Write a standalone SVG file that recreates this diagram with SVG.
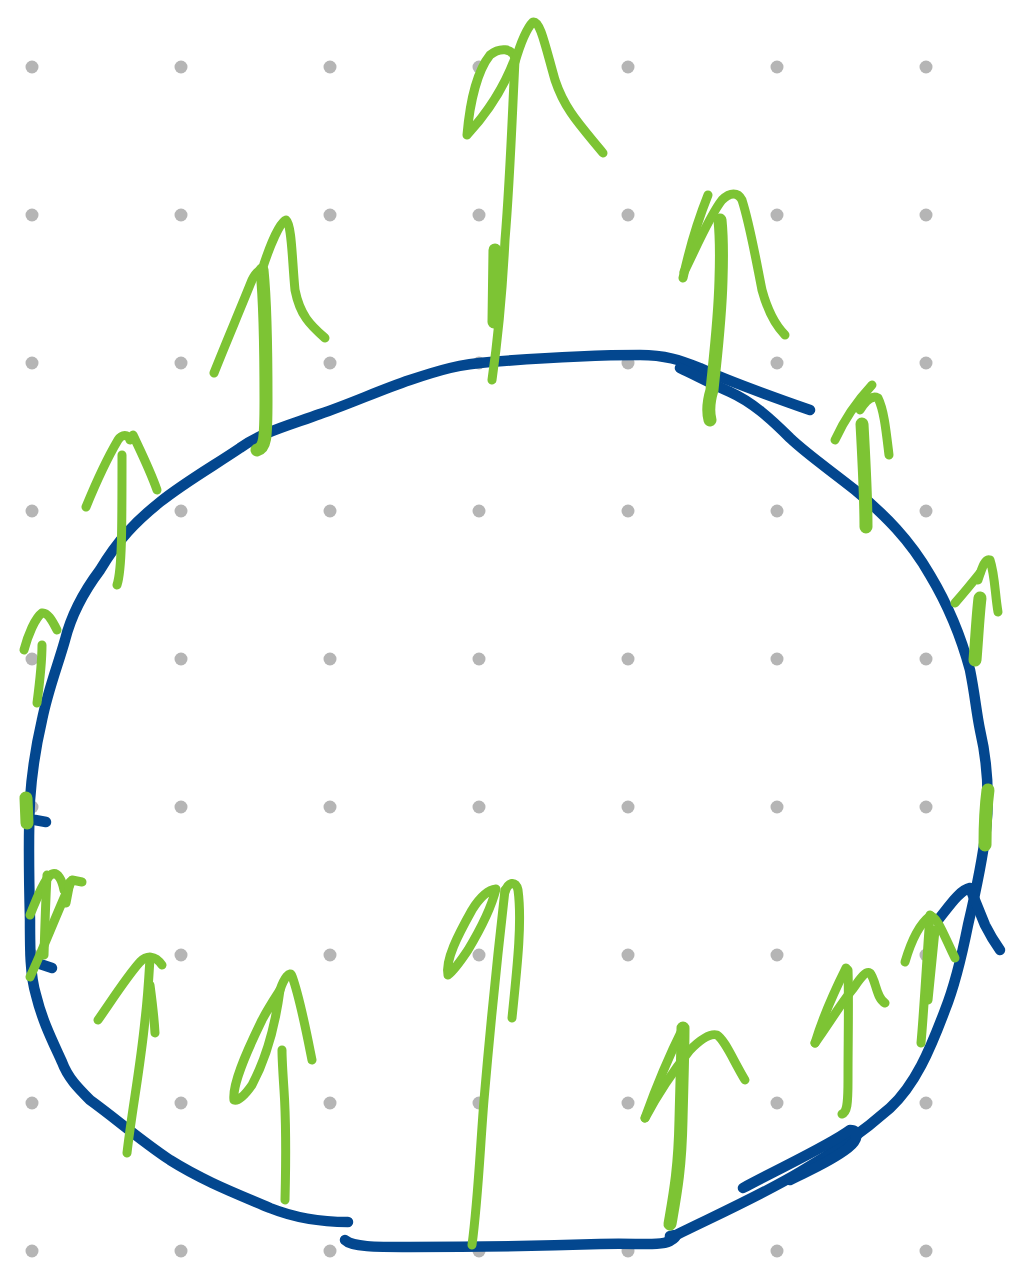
<svg xmlns="http://www.w3.org/2000/svg" width="1011" height="1264" viewBox="0 0 1011 1264">
<style>
.dot{fill:#b5b5b5}
.b{fill:none;stroke:#03478f;stroke-width:10.5;stroke-linecap:round;stroke-linejoin:round}
.g{fill:none;stroke:#7dc434;stroke-width:9;stroke-linecap:round;stroke-linejoin:round}
.gt{fill:none;stroke:#7dc434;stroke-width:13;stroke-linecap:round;stroke-linejoin:round}
</style>
<rect width="1011" height="1264" fill="#fff"/>
<g id="grid">
<g id="r1"><circle class="dot" cx="32" cy="67" r="6.5"/><circle class="dot" cx="181" cy="67" r="6.5"/><circle class="dot" cx="330" cy="67" r="6.5"/><circle class="dot" cx="479" cy="67" r="6.5"/><circle class="dot" cx="628" cy="67" r="6.5"/><circle class="dot" cx="777" cy="67" r="6.5"/><circle class="dot" cx="926" cy="67" r="6.5"/></g>
<g id="r2"><circle class="dot" cx="32" cy="215" r="6.5"/><circle class="dot" cx="181" cy="215" r="6.5"/><circle class="dot" cx="330" cy="215" r="6.5"/><circle class="dot" cx="479" cy="215" r="6.5"/><circle class="dot" cx="628" cy="215" r="6.5"/><circle class="dot" cx="777" cy="215" r="6.5"/><circle class="dot" cx="926" cy="215" r="6.5"/></g>
<g id="r3"><circle class="dot" cx="32" cy="363" r="6.5"/><circle class="dot" cx="181" cy="363" r="6.5"/><circle class="dot" cx="330" cy="363" r="6.5"/><circle class="dot" cx="479" cy="363" r="6.5"/><circle class="dot" cx="628" cy="363" r="6.5"/><circle class="dot" cx="777" cy="363" r="6.5"/><circle class="dot" cx="926" cy="363" r="6.5"/></g>
<g id="r4"><circle class="dot" cx="32" cy="511" r="6.5"/><circle class="dot" cx="181" cy="511" r="6.5"/><circle class="dot" cx="330" cy="511" r="6.5"/><circle class="dot" cx="479" cy="511" r="6.5"/><circle class="dot" cx="628" cy="511" r="6.5"/><circle class="dot" cx="777" cy="511" r="6.5"/><circle class="dot" cx="926" cy="511" r="6.5"/></g>
<g id="r5"><circle class="dot" cx="32" cy="659" r="6.5"/><circle class="dot" cx="181" cy="659" r="6.5"/><circle class="dot" cx="330" cy="659" r="6.5"/><circle class="dot" cx="479" cy="659" r="6.5"/><circle class="dot" cx="628" cy="659" r="6.5"/><circle class="dot" cx="777" cy="659" r="6.5"/><circle class="dot" cx="926" cy="659" r="6.5"/></g>
<g id="r6"><circle class="dot" cx="32" cy="807" r="6.5"/><circle class="dot" cx="181" cy="807" r="6.5"/><circle class="dot" cx="330" cy="807" r="6.5"/><circle class="dot" cx="479" cy="807" r="6.5"/><circle class="dot" cx="628" cy="807" r="6.5"/><circle class="dot" cx="777" cy="807" r="6.5"/><circle class="dot" cx="926" cy="807" r="6.5"/></g>
<g id="r7"><circle class="dot" cx="32" cy="955" r="6.5"/><circle class="dot" cx="181" cy="955" r="6.5"/><circle class="dot" cx="330" cy="955" r="6.5"/><circle class="dot" cx="479" cy="955" r="6.5"/><circle class="dot" cx="628" cy="955" r="6.5"/><circle class="dot" cx="777" cy="955" r="6.5"/><circle class="dot" cx="926" cy="955" r="6.5"/></g>
<g id="r8"><circle class="dot" cx="32" cy="1103" r="6.5"/><circle class="dot" cx="181" cy="1103" r="6.5"/><circle class="dot" cx="330" cy="1103" r="6.5"/><circle class="dot" cx="479" cy="1103" r="6.5"/><circle class="dot" cx="628" cy="1103" r="6.5"/><circle class="dot" cx="777" cy="1103" r="6.5"/><circle class="dot" cx="926" cy="1103" r="6.5"/></g>
<g id="r9"><circle class="dot" cx="32" cy="1251" r="6.5"/><circle class="dot" cx="181" cy="1251" r="6.5"/><circle class="dot" cx="330" cy="1251" r="6.5"/><circle class="dot" cx="479" cy="1251" r="6.5"/><circle class="dot" cx="628" cy="1251" r="6.5"/><circle class="dot" cx="777" cy="1251" r="6.5"/><circle class="dot" cx="926" cy="1251" r="6.5"/></g>
</g>
<g id="loop">
<path class="b" d="M810,410 C770,396 730,382 700,368 C680,360 665,355 640,355 C590,355 540,358 490,362 C460,364 440,370 410,380 C380,390 350,404 320,414 C290,425 260,433 240,448 C215,465 185,482 160,502 C135,522 118,540 100,570 C85,590 72,612 65,640 C58,665 48,690 42,720 C35,750 32,770 30,800 C28,840 29,880 30,920 C30,950 30,975 36,995 C42,1020 52,1040 62,1062 C68,1078 78,1088 90,1100 C115,1118 140,1140 170,1160 C205,1182 240,1195 270,1208 C295,1218 320,1222 348,1222"/>
<path class="b" d="M35,820 L46,822"/>
<path class="b" d="M40,964 L52,968"/>
<path class="b" d="M345,1240 C352,1247 375,1247 410,1247 C480,1247 540,1246 600,1244 C640,1243 660,1246 670,1241 C677,1237 678,1234 670,1236"/>
<path class="b" d="M670,1238 C710,1218 760,1196 800,1172 C835,1152 865,1130 890,1108 C915,1085 930,1050 945,1010 C955,985 962,955 968,925 C975,895 982,865 986,830 C990,790 987,760 980,730 C976,710 975,695 970,670 C962,640 948,605 930,575 C910,540 885,515 855,490 C830,470 808,455 790,438 C770,418 752,402 730,392 C712,384 695,375 680,368"/>
<path class="b" d="M938,920 C950,905 960,890 970,888 L985,925 C990,935 995,943 1000,950"/>
<path class="b" d="M743,1188 C780,1168 830,1145 850,1130 C860,1130 858,1140 848,1148 C830,1162 810,1170 790,1180"/>
</g>
<g id="arrows">
<g id="a1"><path class="g" d="M492,380 C497,345 502,300 505,240 C510,180 512,120 515,60"/><path class="gt" d="M495,250 L494,322"/><path class="g" d="M467,135 C470,100 478,70 490,55 C500,47 512,48 515,58 C505,85 490,110 467,135"/><path class="g" d="M515,62 C520,45 527,28 533,22 C540,20 545,45 555,80 C565,110 580,125 603,153"/></g>
<g id="a2"><path class="gt" d="M257,450 C265,448 266,440 266,400 C266,340 265,300 262,270"/><path class="g" d="M214,373 C225,345 240,310 252,280 C256,272 260,270 262,270"/><path class="g" d="M262,270 C270,245 280,222 286,220 C292,225 292,260 295,290 C300,315 310,325 325,338"/></g>
<g id="a3"><path class="g" d="M117,585 C122,570 122,530 122,455"/><path class="g" d="M86,507 C95,485 105,462 118,440 C122,434 128,434 130,440"/><path class="g" d="M133,435 C140,450 150,470 157,490"/></g>
<g id="a4"><path class="g" d="M37,703 C40,680 42,660 42,645"/><path class="g" d="M24,650 C28,635 35,618 42,613 C47,612 52,620 57,630"/></g>
<g id="a5"><path class="gt" d="M26,798 L27,823"/></g>
<g id="a6"><path class="g" d="M30,977 C45,945 58,910 72,880 L82,882"/><path class="g" d="M30,915 C38,895 45,878 52,874 C58,872 62,880 64,890"/><path class="g" d="M44,955 C45,920 46,895 47,875"/><path class="g" d="M66,903 L70,882"/></g>
<g id="a7"><path class="g" d="M127,1153 C132,1110 140,1070 145,1020 C148,995 149,975 150,958"/><path class="g" d="M98,1020 C112,1000 128,975 140,962 C147,955 155,955 162,965"/><path class="g" d="M150,985 C152,1000 154,1015 155,1033"/></g>
<g id="a8"><path class="g" d="M285,1200 C286,1160 286,1120 284,1090 C283,1075 282,1060 282,1050"/><path class="g" d="M234,1100 C232,1085 245,1055 262,1020 C270,1005 277,995 280,990 C276,1020 268,1055 252,1085 C245,1095 238,1102 234,1100"/><path class="g" d="M280,990 C284,978 290,970 292,976 C300,998 306,1030 312,1060"/></g>
<g id="a9"><path class="g" d="M472,1245 C478,1200 480,1150 484,1100 C490,1030 497,960 505,890"/><path class="g" d="M448,975 C445,960 458,935 472,910 C480,897 488,890 496,889 C492,905 480,930 468,950 C460,962 452,972 448,975"/><path class="g" d="M505,892 C508,882 516,880 518,890 C522,920 518,960 512,1018"/></g>
<g id="a10"><path class="gt" d="M670,1224 C675,1195 680,1170 681,1120 C682,1080 683,1050 683,1028"/><path class="g" d="M645,1118 C655,1090 668,1058 683,1028"/><path class="g" d="M645,1118 C660,1090 678,1065 690,1050 C700,1040 710,1033 717,1035 C725,1040 733,1060 745,1080"/></g>
<g id="a11"><path class="g" d="M842,1114 C847,1112 848,1105 848,1080 C848,1040 849,1000 848,970"/><path class="g" d="M815,1043 C822,1020 835,990 846,968"/><path class="g" d="M815,1043 C828,1025 840,1005 852,990 C858,982 865,970 870,973 C876,980 876,998 885,1003"/></g>
<g id="a12"><path class="g" d="M921,1043 C924,1010 926,970 930,915"/><path class="g" d="M905,962 C910,945 918,925 930,916 C937,915 945,938 955,958"/><path class="g" d="M935,930 L928,1000"/></g>
<g id="a13"><path class="gt" d="M710,420 C708,412 709,400 712,390 C715,360 720,320 721,280 C722,250 721,230 720,220"/><path class="g" d="M683,278 C688,255 696,225 708,195"/><path class="g" d="M684,272 C695,250 710,215 722,200 C730,192 738,192 742,200 C750,225 756,260 762,290 C768,312 775,325 785,335"/></g>
<g id="a14"><path class="gt" d="M866,527 C866,500 864,460 862,424"/><path class="g" d="M835,440 C845,418 858,400 872,385"/><path class="g" d="M860,410 C866,400 872,395 878,398 C884,410 886,430 889,455"/></g>
<g id="a15"><path class="gt" d="M975,660 C977,635 978,615 980,598"/><path class="g" d="M955,603 C962,595 972,583 980,573"/><path class="g" d="M978,580 C982,568 985,558 990,560 C995,575 995,595 998,612"/></g>
<g id="a16"><path class="gt" d="M988,790 C986,805 985,825 985,845"/></g>
</g>
</svg>
